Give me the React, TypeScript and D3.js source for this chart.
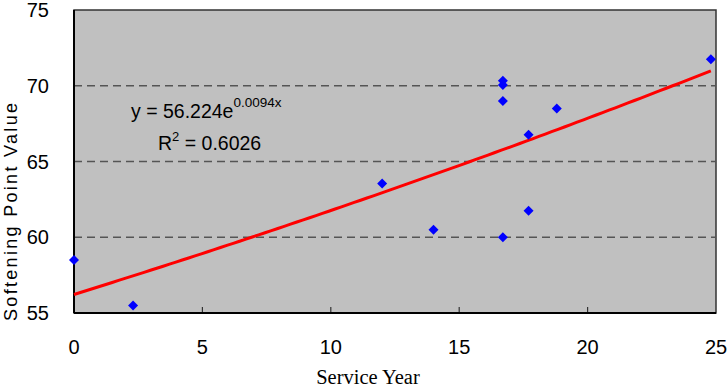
import React from "react";
import * as d3 from "d3";

const serviceYears = [0, 2.3, 12.0, 14.0, 16.7, 16.7, 16.7, 16.7, 17.7, 17.7, 18.8, 24.8];
const softeningPoints = [58.5, 55.5, 63.55, 60.5, 70.33, 70.05, 69.0, 60.0, 66.77, 61.75, 68.5, 71.75];
const xTicks = [0, 5, 10, 15, 20, 25];
const yTicks = [55, 60, 65, 70, 75];
const gridValues = [60, 65, 70];
const trendA = 56.224;
const trendB = 0.0094;

export default function App() {
  const W = 728, H = 388;
  const left = 74, right = 716, top = 10, bottom = 313;
  const x = d3.scaleLinear().domain([0, 25]).range([left, right]);
  const y = d3.scaleLinear().domain([55, 75]).range([bottom, top]);
  const xMax = d3.max(serviceYears) as number;
  const trendPts = d3.range(0, 101).map((i) => {
    const xv = (xMax * i) / 100;
    return [xv, trendA * Math.exp(trendB * xv)] as [number, number];
  });
  const line = d3.line<[number, number]>().x((d) => x(d[0])).y((d) => y(d[1]));
  const diamond = (cx: number, cy: number, r: number) =>
    `M${cx},${cy - r}L${cx + r},${cy}L${cx},${cy + r}L${cx - r},${cy}Z`;
  const sans = "Arial, 'Liberation Sans', sans-serif";
  return (
    <svg width={W} height={H} style={{ position: "absolute", left: 0, top: 0, background: "#fff" }}>
      <rect x={left} y={top} width={right - left} height={bottom - top} fill="#C0C0C0" stroke="#333" strokeWidth={1.5} />
      {gridValues.map((g) => (
        <line key={g} x1={left} x2={right} y1={y(g)} y2={y(g)} stroke="#555" strokeWidth={1.5} strokeDasharray="8,5" />
      ))}
      {xTicks.slice(1, -1).map((t) => (
        <line key={t} x1={x(t)} x2={x(t)} y1={bottom} y2={bottom - 6} stroke="#333" strokeWidth={1.2} />
      ))}
      <line x1={left} x2={left} y1={top} y2={bottom} stroke="#000" strokeWidth={2} />
      <line x1={left} x2={right} y1={bottom} y2={bottom} stroke="#000" strokeWidth={2} />
      <path d={line(trendPts) || ""} fill="none" stroke="#FF0000" strokeWidth={3} />
      {serviceYears.map((sv, i) => (
        <path key={i} d={diamond(x(sv), y(softeningPoints[i]), 5)} fill="#0000FF" />
      ))}
      {yTicks.map((t) => (
        <text key={t} x={49} y={y(t)} dy="0.36em" textAnchor="end" fontFamily={sans} fontSize={20} fill="#000">
          {t}
        </text>
      ))}
      {xTicks.map((t) => (
        <text key={t} x={x(t)} y={347} dy="0.36em" textAnchor="middle" fontFamily={sans} fontSize={20} fill="#000">
          {t}
        </text>
      ))}
      <text x={131} y={118} fontFamily={sans} fontSize={19.5} fill="#000">
        y = 56.224e<tspan dy={-11} fontSize={13.5}>0.0094x</tspan>
      </text>
      <text x={158} y={150} fontFamily={sans} fontSize={19.5} fill="#000">
        R<tspan dy={-9} fontSize={13}>2</tspan><tspan dy={9}> = 0.6026</tspan>
      </text>
      <text x={368} y={384} textAnchor="middle" fontFamily="'Times New Roman', 'Liberation Serif', serif" fontSize={20.5} fill="#000">
        Service Year
      </text>
      <text
        transform={`translate(17,212) rotate(-90)`}
        textAnchor="middle"
        fontFamily={sans}
        fontSize={18}
        textLength={218}
        lengthAdjust="spacing"
        fill="#000"
      >
        Softening Point Value
      </text>
    </svg>
  );
}
